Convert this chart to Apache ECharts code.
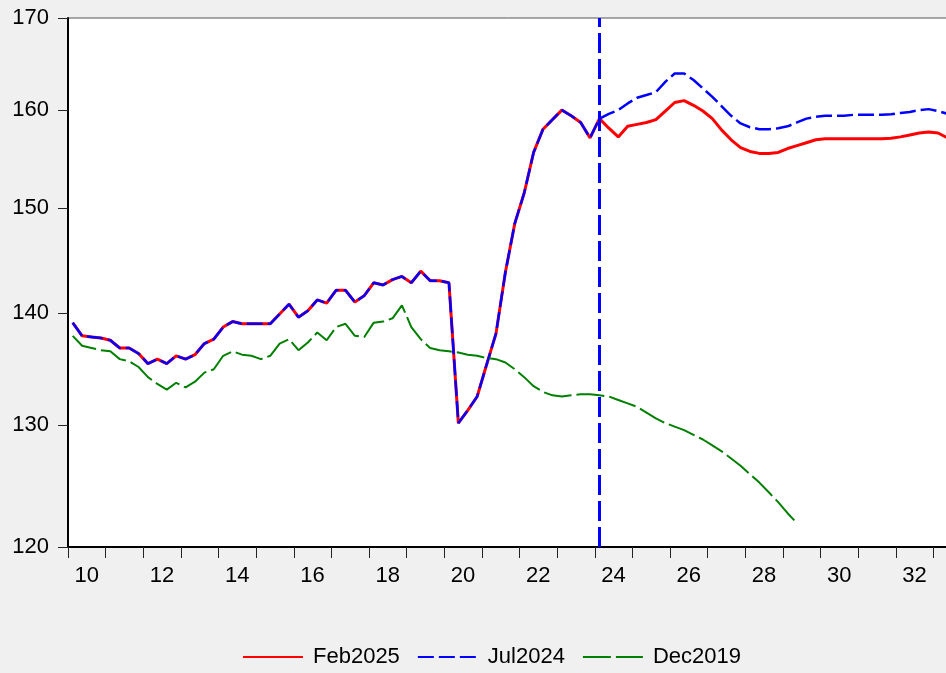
<!DOCTYPE html>
<html>
<head>
<meta charset="utf-8">
<script src="https://cdn.jsdelivr.net/npm/echarts@6/dist/echarts.min.js"></script>
<style>
html,body{margin:0;padding:0;background:#f0f0f0;}
#chart{width:946px;height:673px;}
</style>
</head>
<body>
<div id="chart"></div>
<script>
// Quarterly data, first observation = 2010Q1
const startYear = 2010;

// Shared actuals (Feb2025 and Jul2024 vintages), 2010Q1 .. 2024Q1
const history = [
  139.1, 137.9, 137.8, 137.7, 137.5, 136.8, 136.8, 136.3, 135.4, 135.8,
  135.4, 136.1, 135.8, 136.2, 137.2, 137.6, 138.7, 139.2, 139.0, 139.0,
  139.0, 139.0, 139.9, 140.8, 139.6, 140.2, 141.2, 140.9, 142.1, 142.1,
  141.0, 141.6, 142.8, 142.6, 143.1, 143.4, 142.8, 143.9, 143.0, 143.0,
  142.8, 130.2, 131.3, 132.5, 135.3, 138.1, 143.8, 148.5, 151.5, 155.6,
  158.0, 159.0, 160.0, 159.4, 158.7, 157.1, 159.1
];

// Feb2025 vintage, 2024Q2 .. 2033Q2
const feb2025Tail = [
  158.1, 157.2, 158.3, 158.5, 158.7, 159.0, 159.9, 160.8, 161.0, 160.5,
  159.9, 159.1, 157.9, 156.9, 156.1, 155.7, 155.5, 155.5, 155.6, 156.0,
  156.3, 156.6, 156.9, 157.0, 157.0, 157.0, 157.0, 157.0, 157.0, 157.0,
  157.05, 157.2, 157.4, 157.6, 157.7, 157.6, 157.1
];

// Jul2024 vintage, 2024Q2 .. 2033Q2
const jul2024Tail = [
  159.6, 160.0, 160.7, 161.3, 161.6, 161.9, 163.0, 163.9, 163.9, 163.2,
  162.3, 161.4, 160.4, 159.4, 158.6, 158.2, 158.0, 158.0, 158.1, 158.3,
  158.7, 159.1, 159.3, 159.4, 159.4, 159.4, 159.5, 159.5, 159.5, 159.5,
  159.55, 159.7, 159.8, 160.0, 160.1, 159.9, 159.6
];

// Dec2019 vintage, 2010Q1 .. 2029Q2
const dec2019 = [
  137.9, 137.0, 136.8, 136.6, 136.5, 135.8, 135.6, 135.1, 134.2, 133.6,
  133.1, 133.7, 133.3, 133.8, 134.6, 134.9, 136.1, 136.5, 136.2, 136.1,
  135.8, 136.1, 137.2, 137.6, 136.6, 137.3, 138.2, 137.5, 138.7, 139.0,
  137.9, 137.8, 139.1, 139.2, 139.5, 140.7, 138.7, 137.6, 136.8, 136.6,
  136.5, 136.4, 136.2, 136.1, 135.9, 135.8, 135.5, 134.9, 134.2, 133.4,
  132.9, 132.6, 132.5, 132.6, 132.7, 132.7, 132.6, 132.5, 132.2, 131.9,
  131.6, 131.1, 130.6, 130.2, 129.9, 129.6, 129.2, 128.8, 128.3, 127.8,
  127.2, 126.6, 125.9, 125.2, 124.4, 123.6, 122.7, 121.9
];

const seriesNames = ['Feb2025', 'Jul2024', 'Dec2019'];
const forecastOrigin = '2024Q1';
const yTicks = [120, 130, 140, 150, 160, 170];
const xLabelYears = [2010, 2012, 2014, 2016, 2018, 2020, 2022, 2024, 2026, 2028, 2030, 2032];

function quarterPos(i) { return startYear + (i + 0.5) / 4; }
function parseQuarter(s) { return +s.slice(0, 4) + (+s.slice(5) - 0.5) / 4; }
function toPairs(arr) { return arr.map((v, i) => [quarterPos(i), v]); }

const feb2025 = history.concat(feb2025Tail);
const jul2024 = history.concat(jul2024Tail);

const FONT = '"Liberation Sans", Arial, sans-serif';
const chart = echarts.init(document.getElementById('chart'), null, {renderer: 'canvas'});

chart.setOption({
  animation: false,
  backgroundColor: '#f0f0f0',
  textStyle: {fontFamily: FONT},
  grid: {
    left: 68, top: 18, right: -25, bottom: 126,
    outerBoundsMode: 'none', containLabel: false,
    show: true, backgroundColor: '#ffffff', borderColor: '#555', borderWidth: 1
  },
  legend: {
    left: 237, top: 641,
    itemWidth: 60, itemHeight: 2, itemGap: 17,
    itemStyle: {opacity: 0},
    textStyle: {fontSize: 22, color: '#000', fontFamily: FONT, padding: [0, 0, 0, 5]},
    data: seriesNames
  },
  xAxis: [
    {
      type: 'value', position: 'bottom', min: 2010, max: 2034, interval: 1,
      axisLine: {show: true, onZero: false, lineStyle: {color: '#000', width: 2}},
      axisTick: {show: true, inside: false, length: 11, lineStyle: {color: '#222', width: 1}},
      axisLabel: {show: false},
      splitLine: {show: false}
    },
    {
      type: 'value', position: 'bottom', min: 2010, max: 2034, interval: 0.5,
      axisLine: {show: false},
      axisTick: {show: false},
      splitLine: {show: false},
      axisLabel: {
        show: true, margin: 18, fontSize: 22, color: '#000', fontFamily: FONT,
        showMinLabel: true, showMaxLabel: true,
        formatter: function (v) {
          const y = v - 0.5;
          if (Math.abs(y - Math.round(y)) < 1e-6 && xLabelYears.indexOf(Math.round(y)) >= 0) {
            return String(Math.round(y) % 100).padStart(2, '0');
          }
          return '';
        }
      }
    }
  ],
  yAxis: {
    type: 'log', logBase: 10, min: 120, max: 170,
    axisLine: {show: true, onZero: false, lineStyle: {color: '#000', width: 2}},
    axisTick: {show: true, inside: false, length: 10, lineStyle: {color: '#222', width: 1}, customValues: yTicks},
    axisLabel: {show: true, margin: 19, fontSize: 22, color: '#000', fontFamily: FONT, customValues: yTicks,
      formatter: v => String(Math.round(v))},
    splitLine: {show: false}
  },
  series: [
    {
      name: seriesNames[0], type: 'line', xAxisIndex: 0, data: toPairs(feb2025),
      symbol: 'none', showSymbol: false,
      lineStyle: {color: '#ff0000', width: 3, type: 'solid'},
      itemStyle: {color: '#ff0000'}
    },
    {
      name: seriesNames[1], type: 'line', xAxisIndex: 0, data: toPairs(jul2024),
      symbol: 'none', showSymbol: false,
      lineStyle: {color: '#0000ff', width: 2.5, type: [16, 5]},
      itemStyle: {color: '#0000ff'}
    },
    {
      name: seriesNames[2], type: 'line', xAxisIndex: 0, data: toPairs(dec2019),
      symbol: 'none', showSymbol: false,
      lineStyle: {color: '#008000', width: 2, type: [28, 5]},
      itemStyle: {color: '#008000'},
      markLine: {
        silent: true, symbol: ['none', 'none'], label: {show: false},
        lineStyle: {color: '#0000ff', width: 3, type: [20, 6]},
        data: [{xAxis: parseQuarter(forecastOrigin)}]
      }
    }
  ]
});
</script>
</body>
</html>
